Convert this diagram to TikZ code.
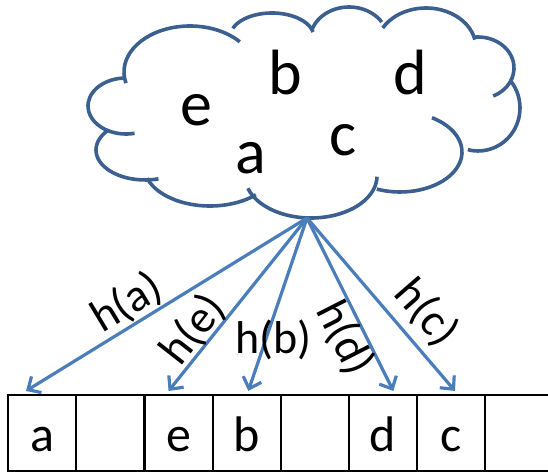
\documentclass[tikz,border=0pt]{standalone}
\usepackage{fontspec}
\setmainfont{Carlito}
\usetikzlibrary{arrows.meta}
\definecolor{cloudblue}{HTML}{3B5F8F}
\definecolor{arrowblue}{HTML}{4A7EBB}
% one elliptical puff of the cloud outline: centre x, centre y, x radius, y radius, start angle, end angle
\newcommand\cloudpuff[6]{\draw[cloudline] ([shift={(#1,#2)}]#5:#3pt and #4pt) arc[start angle=#5,end angle=#6,x radius=#3pt,y radius=#4pt];}
\begin{document}
\begin{tikzpicture}[x=1pt,y=1pt,
  cloudline/.style={draw=cloudblue,line width=3.6pt},
  hasharrow/.style={draw=arrowblue,line width=3.2pt,-{Straight Barb[length=10pt,width=19pt]}},
  cell/.style={draw=black,line width=2.1pt,minimum width=68.1pt,minimum height=75.7pt,inner sep=0pt,
    text height=37.8pt,text depth=0pt,font=\fontsize{50}{60}\selectfont},
  key/.style={font=\fontsize{64}{76}\selectfont,anchor=base,inner sep=0pt},
  hlabel/.style={font=\fontsize{46}{55}\selectfont,inner sep=0pt}]
\useasboundingbox (0,0) rectangle (548,473);

% the cloud of keys
\cloudpuff{126}{367}{38}{28}{94}{283}
\cloudpuff{145}{323}{49}{30}{141}{286}
\cloudpuff{210}{307}{66}{40}{198}{314}
\cloudpuff{311}{297}{66}{42}{197}{359}
\cloudpuff{400}{321}{62}{40}{59}{-112}
\cloudpuff{478}{365}{42}{43}{40}{-104}
\cloudpuff{478}{405}{36}{31}{97}{-65}
\cloudpuff{426}{425}{50}{40}{150}{12}
\cloudpuff{349}{433}{39}{33}{162}{33}
\cloudpuff{272}{436}{42}{24}{159}{12}
\cloudpuff{190}{401}{66}{46}{194}{41}

\node[key] (ke) at (196.7,347) {e};
\node[key] (kb) at (285.8,378) {b};
\node[key] (kd) at (410,378) {d};
\node[key] (kc) at (342.7,317) {c};
\node[key] (ka) at (251.3,299) {a};

% the hash table
\begin{scope}
\clip (0,0) rectangle (548,473);
\node[cell] (s0) at (42.35,40.15) {a};
\node[cell] (s1) at (110.45,40.15) {};
\node[cell] (s2) at (178.55,40.15) {e};
\node[cell] (s3) at (246.65,40.15) {b};
\node[cell] (s4) at (314.75,40.15) {};
\node[cell] (s5) at (382.85,40.15) {d};
\node[cell] (s6) at (450.95,40.15) {c};
\node[cell] (s7) at (519.05,40.15) {};
\end{scope}

% hash arrows
\coordinate (src) at (307,255);
\draw[hasharrow] (src) -- ([xshift=-16.35pt,yshift=3pt]s0.north);
\draw[hasharrow] (src) -- ([xshift=-10pt,yshift=3pt]s2.north);
\draw[hasharrow] (src) -- ([xshift=1.65pt,yshift=3pt]s3.north);
\draw[hasharrow] (src) -- ([xshift=10.45pt,yshift=3pt]s5.north);
\draw[hasharrow] (src) -- ([xshift=4.05pt,yshift=3pt]s6.north);

\node[hlabel,rotate=31] (la) at (127,170) {h(a)};
\node[hlabel,rotate=52] (le) at (193,143) {h(e)};
\node[hlabel,anchor=base] (lb) at (273.3,119.7) {h(b)};
\node[hlabel,rotate=-63] (ld) at (345,135) {h(d)};
\node[hlabel,rotate=-49] (lc) at (426.5,160.3) {h(c)};
\end{tikzpicture}
\end{document}
